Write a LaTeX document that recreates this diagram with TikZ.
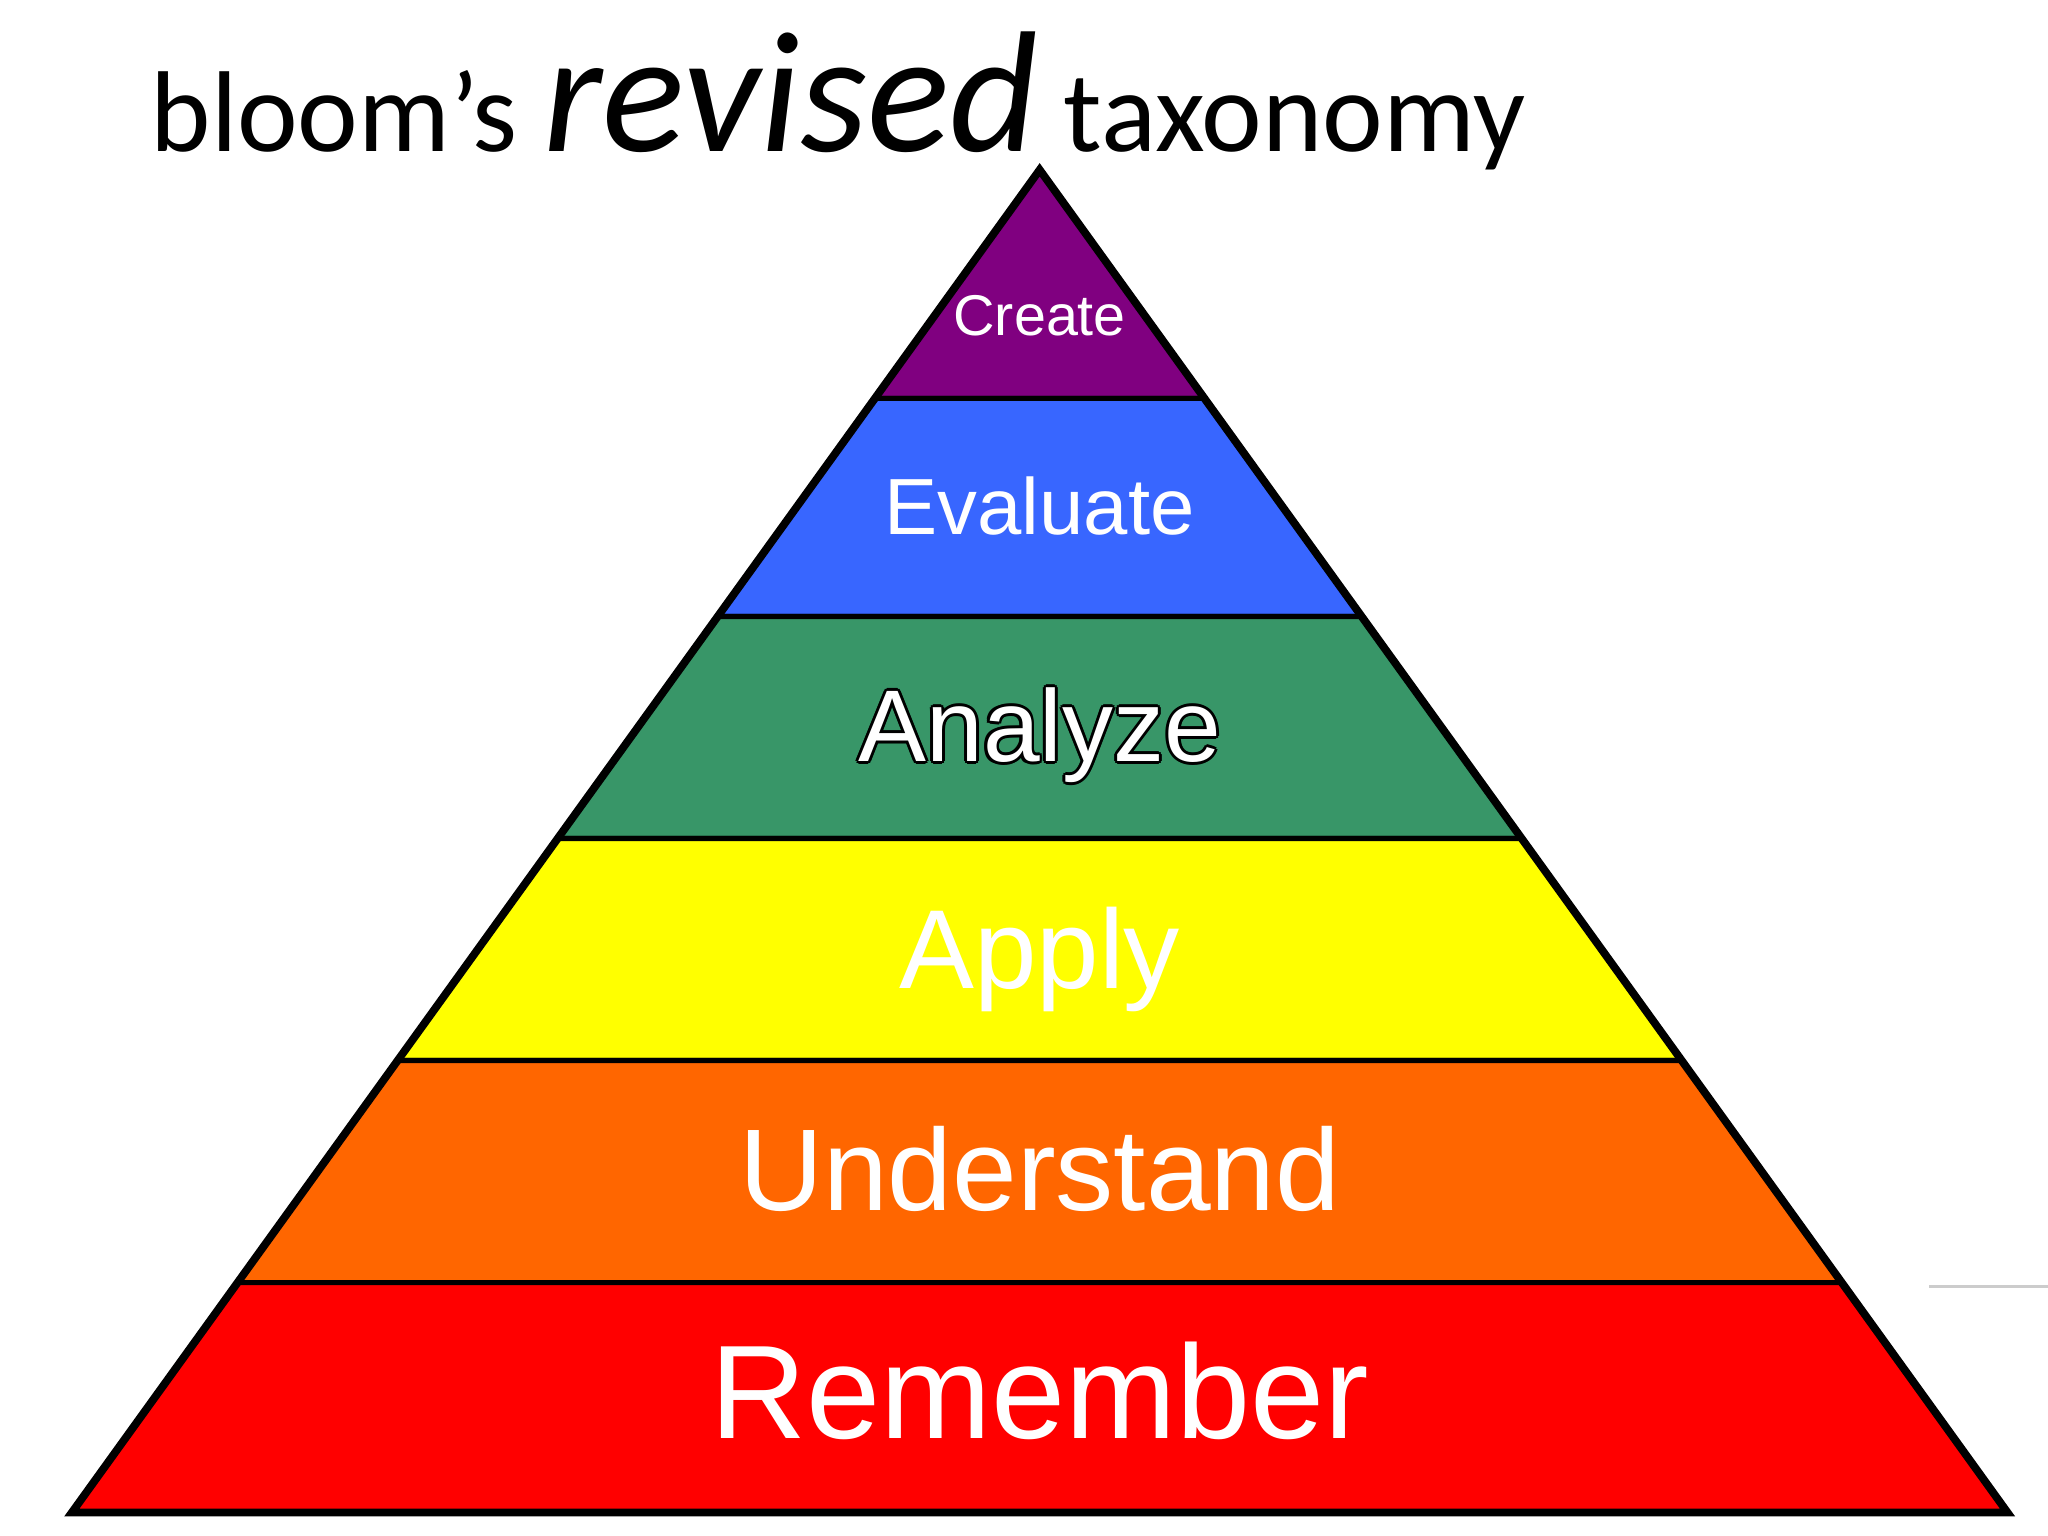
\documentclass[tikz,border=0pt]{standalone}
\usepackage{fontspec}
\setmainfont{Liberation Sans}
\newfontfamily\calib{Carlito}
\begin{document}
\begin{tikzpicture}[x=0.5pt,y=-0.5pt,
  band/.style={draw=black,line width=2pt,line join=miter},
  lab/.style={text=white,inner sep=0pt,anchor=base}]
\useasboundingbox (0,0) rectangle (1568,1176);
\fill[white] (0,0) rectangle (1568,1176);
\def\lx#1{\fpeval{796-(#1-130)*0.7208}}
\def\rx#1{\fpeval{796+(#1-130)*0.7208}}
\coordinate (A) at (796,130);
\foreach \ya/\yb/\col in {130/305/{rgb,255:red,128;green,0;blue,128},305/472/{rgb,255:red,56;green,102;blue,255},472/642/{rgb,255:red,56;green,150;blue,104},642/812/{rgb,255:red,255;green,255;blue,0},812/982/{rgb,255:red,255;green,102;blue,0},982/1158/{rgb,255:red,255;green,0;blue,0}}{
  \filldraw[band,fill=\col] (\lx{\ya},\ya) -- (\rx{\ya},\ya) -- (\rx{\yb},\yb) -- (\lx{\yb},\yb) -- cycle;
}
\draw[line width=3pt,line join=miter] (A) -- (\lx{1158},1158) -- (\rx{1158},1158) -- cycle;
\node[lab,font=\fontsize{22}{22}\selectfont] (c) at (796,257) {Create};
\node[lab,font=\fontsize{30.5}{30.5}\selectfont] (e) at (796,409) {Evaluate};
\foreach \dx/\dy in {-1.1/0,1.1/0,0/-1.1,0/1.1,-0.8/-0.8,0.8/0.8,-0.8/0.8,0.8/-0.8}{
  \node[inner sep=0pt,anchor=base,text=black,font=\fontsize{39}{39}\selectfont] at ([shift={(\dx pt,-\dy pt)}]796,583) {Analyze};}
\node[lab,font=\fontsize{39}{39}\selectfont] (an) at (796,583) {Analyze};
\node[lab,font=\fontsize{43}{43}\selectfont] (ap) at (796,757) {Apply};
\node[lab,font=\fontsize{44.5}{44.5}\selectfont] (u) at (796,927) {Understand};
\node[lab,font=\fontsize{51}{51}\selectfont] (r) at (796,1101) {Remember};
\node[inner sep=0pt,anchor=base west,font=\calib\fontsize{44}{44}\selectfont] (t) at (115,116)
  {bloom’s {\fontsize{66}{66}\selectfont\itshape revised} taxonomy};
\draw[gray!40,line width=1pt] (1477,985) -- (1568,985);
\end{tikzpicture}
\end{document}
